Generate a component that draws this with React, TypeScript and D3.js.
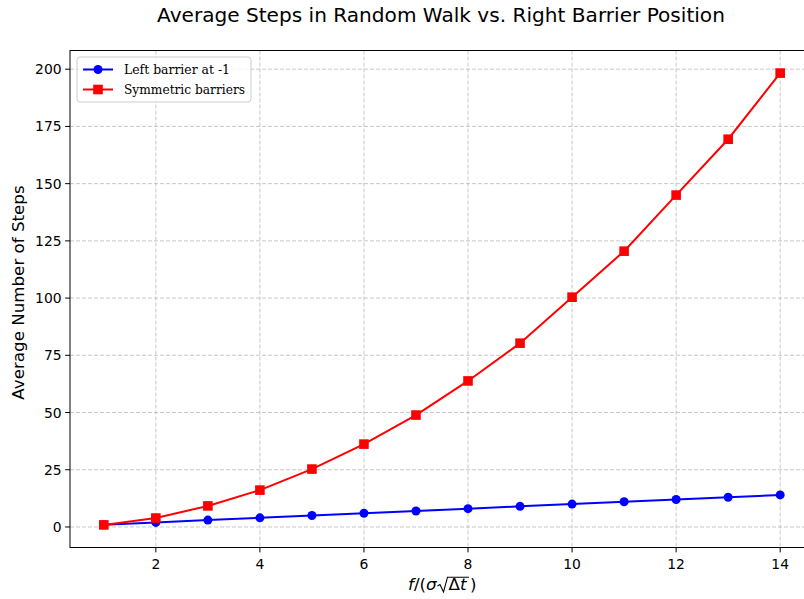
import React from "react";
import * as d3 from "d3";

const xValues = [1, 2, 3, 4, 5, 6, 7, 8, 9, 10, 11, 12, 13, 14];
const leftBarrier = [1, 2, 3, 4, 5, 6, 7, 8, 9, 10, 11, 12, 13, 14];
const symmetric = [0.9, 3.9, 9.2, 16.1, 25.3, 36.2, 48.9, 63.8, 80.3, 100.4, 120.5, 145.0, 169.4, 198.3];
const xTicks = [2, 4, 6, 8, 10, 12, 14];
const yTicks = [0, 25, 50, 75, 100, 125, 150, 175, 200];
const seriesNames = ["Left barrier at -1", "Symmetric barriers"];
const title = "Average Steps in Random Walk vs. Right Barrier Position";
const yLabel = "Average Number of Steps";

const W = 804;
const H = 599;
const L = 70, R = 814, T = 50.5, B = 547.5;

export default function App() {
  const x = d3.scaleLinear().domain([0.35, 14.65]).range([L, R]);
  const y = d3.scaleLinear().domain([-8.97, 208.17]).range([B, T]);
  const line = d3.line<number>().x((_, i) => x(xValues[i])).y((d) => y(d));
  const font = "DejaVu Sans, sans-serif";
  const fs = 13.9;
  return (
    <svg width={W} height={H} style={{ position: "absolute", left: 0, top: 0, background: "#fff" }}>
      <defs>
        <clipPath id="clip">
          <rect x={L} y={T} width={R - L} height={B - T} />
        </clipPath>
      </defs>
      <rect x={0} y={0} width={W} height={H} fill="#fff" />
      {/* grid */}
      <g stroke="#b0b0b0" strokeOpacity={0.7} strokeWidth={1} strokeDasharray="4,2">
        {xTicks.map((t) => (
          <line key={"gx" + t} x1={x(t)} x2={x(t)} y1={T} y2={B} />
        ))}
        {yTicks.map((t) => (
          <line key={"gy" + t} x1={L} x2={R} y1={y(t)} y2={y(t)} />
        ))}
      </g>
      {/* series */}
      <g clipPath="url(#clip)">
        <path d={line(leftBarrier) || ""} fill="none" stroke="#0000ff" strokeWidth={2} />
        {leftBarrier.map((v, i) => (
          <circle key={"c" + i} cx={x(xValues[i])} cy={y(v)} r={4.5} fill="#0000ff" />
        ))}
        <path d={line(symmetric) || ""} fill="none" stroke="#ff0000" strokeWidth={2} />
        {symmetric.map((v, i) => (
          <rect key={"s" + i} x={x(xValues[i]) - 4.8} y={y(v) - 4.8} width={9.6} height={9.6} fill="#ff0000" />
        ))}
      </g>
      {/* spines */}
      <rect x={L} y={T} width={R - L} height={B - T} fill="none" stroke="#000" strokeWidth={1} />
      {/* ticks */}
      <g stroke="#000" strokeWidth={1}>
        {xTicks.map((t) => (
          <line key={"tx" + t} x1={x(t)} x2={x(t)} y1={B} y2={B + 4.9} />
        ))}
        {yTicks.map((t) => (
          <line key={"ty" + t} x1={L - 4.9} x2={L} y1={y(t)} y2={y(t)} />
        ))}
      </g>
      <g fontFamily={font} fontSize={fs} fill="#000">
        {xTicks.map((t) => (
          <text key={"lx" + t} x={x(t)} y={B + 21.5} textAnchor="middle">{t}</text>
        ))}
        {yTicks.map((t) => (
          <text key={"ly" + t} x={L - 8.4} y={y(t) + 5} textAnchor="end">{t}</text>
        ))}
      </g>
      {/* title */}
      <text x={(L + R) / 2 - 1} y={21.5} textAnchor="middle" fontFamily={font} fontSize={20.1} fill="#000">{title}</text>
      {/* y label */}
      <text transform={`translate(24,292.5) rotate(-90)`} textAnchor="middle" fontFamily={font} fontSize={16.7} fill="#000">{yLabel}</text>
      {/* x label: f/(σ√Δt) */}
      <g fontFamily={font} fontSize={16.7} fill="#000">
        <text x={408} y={590}>
          <tspan fontStyle="italic">f</tspan>
          <tspan>/(</tspan>
          <tspan fontStyle="italic">σ</tspan>
        </text>
        <path d="M437.5,586 L440,584.5 L443.5,592 L447.5,577.2 L469,577.2" fill="none" stroke="#000" strokeWidth={1.1} />
        <text x={448.5} y={590}>
          <tspan>Δ</tspan>
          <tspan fontStyle="italic">t</tspan>
        </text>
        <text x={470} y={590}>)</text>
      </g>
      {/* legend */}
      <g>
        <rect x={77} y={57} width={174} height={45} rx={3} fill="#fff" fillOpacity={0.8} stroke="#cccccc" strokeWidth={1} />
        <line x1={83} x2={113} y1={69.5} y2={69.5} stroke="#0000ff" strokeWidth={2} />
        <circle cx={98} cy={69.5} r={4.5} fill="#0000ff" />
        <line x1={83} x2={113} y1={89.5} y2={89.5} stroke="#ff0000" strokeWidth={2} />
        <rect x={98 - 4.8} y={89.5 - 4.8} width={9.6} height={9.6} fill="#ff0000" />
        <g fontFamily="DejaVu Serif, serif" fontSize={13} fill="#000">
          <text x={124} y={74} textLength={106} lengthAdjust="spacingAndGlyphs">{seriesNames[0]}</text>
          <text x={124} y={94} textLength={121} lengthAdjust="spacingAndGlyphs">{seriesNames[1]}</text>
        </g>
      </g>
    </svg>
  );
}
